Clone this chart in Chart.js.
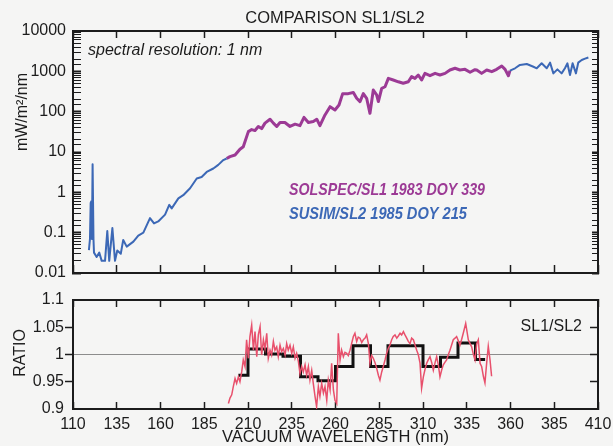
<!DOCTYPE html>
<html>
<head>
<meta charset="utf-8">
<script src="https://cdn.jsdelivr.net/npm/chart.js@4.4.1/dist/chart.umd.min.js"></script>
<style>
  html, body { margin: 0; padding: 0; background: #f5f5f4; }
  #wrap { position: relative; width: 613px; height: 446px; overflow: hidden; }
  #spec { position: absolute; left: 0; top: 0; width: 613px; height: 290px; }
  #ratio { position: absolute; left: 0; top: 290px; width: 613px; height: 156px; }
</style>
</head>
<body>
<div id="wrap">
  <canvas id="spec" width="613" height="290"></canvas>
  <canvas id="ratio" width="613" height="156"></canvas>
</div>
<script>
// SUSIM/SL2 (blue), short-wave part
const susimUvWl = [119.1, 119.7, 120.1, 120.5, 120.8, 121.2, 121.7, 122.0, 123.5, 125.0, 126.4, 128.3, 129.6, 130.7,
  132.5, 134.0, 135.3, 137.3, 138.7, 140.7, 144.5, 147.3, 150.2, 154, 156.3, 158.7, 162.6, 165, 166.4, 170.2, 173,
  176.9, 180.7, 183.5, 186.4, 190.2, 193, 195.9, 197.8];
const susimUvFlux = [0.037, 0.07, 0.55, 0.6, 0.07, 5.0, 0.07, 0.032, 0.025, 0.032, 0.02, 0.02, 0.11, 0.02,
  0.13, 0.02, 0.036, 0.03, 0.066, 0.045, 0.06, 0.085, 0.1, 0.23, 0.17, 0.19, 0.28, 0.49, 0.40, 0.71, 0.85,
  1.26, 2.2, 2.4, 3.2, 3.9, 4.8, 6.3, 6.9];

// SUSIM/SL2 (blue), long-wave part
const susimVisWl = [359.7, 362.6, 365.4, 369.3, 373.1, 375, 377.8, 380.7, 382.6, 384.5, 386.8, 389.2, 391.1, 392.5,
  394, 395.5, 397.4, 398.7, 400.7, 402.6, 404.5];
const susimVisFlux = [1040, 1190, 1440, 1520, 1300, 1190, 1580, 1190, 1640, 890, 1120, 890, 1190, 1580,
  810, 1580, 890, 1640, 1910, 2060, 2200];

// SOLSPEC/SL1 (purple)
const solspecWl = [197.8, 199.7, 202.6, 205.4, 207.3, 210.2, 212.1, 214, 215.9, 217.8, 219.7, 222.6, 224.5, 226.4,
  228.3, 231.1, 234, 236.9, 239.7, 242, 244.5, 247.3, 249.3, 251.1, 254, 256.9, 259.7, 262, 264.1, 267.3, 270.2,
  272.1, 274, 275.9, 277.8, 279.7, 281.6, 283.5, 284.5, 286.4, 288.3, 290.2, 293, 295.9, 298.7, 301.6, 303.5,
  305.4, 307.3, 309.2, 311.1, 314, 316.9, 319.7, 322.6, 325.4, 328.3, 331.1, 334, 336.9, 339.7, 340.7, 343.5,
  346.4, 349.3, 352.1, 355, 356.9, 358.8, 359.7];
const solspecFlux = [6.9, 7.7, 8.4, 11.7, 13.5, 32, 36, 34, 43, 38, 52, 65, 52, 43,
  54, 54, 43, 49, 45, 72, 54, 57, 65, 45, 83, 133, 110, 146, 280, 280, 300,
  215, 178, 280, 215, 91, 345, 260, 178, 380, 415, 670, 610, 550, 505, 550, 740,
  670, 810, 610, 890, 780, 890, 810, 890, 1080, 1190, 1080, 1120, 950, 1100, 1080, 890,
  1080, 980, 1120, 1360, 1120, 780, 1040];

// SL1/SL2 ratio (red)
const ratioWl = [198.8, 199.7, 200.7, 201.6, 202.6, 203.5, 204.5, 205.4, 206.4, 207.3, 208.3, 209.2, 210.2, 211.1,
  212.1, 213.1, 214, 215, 215.9, 216.9, 217.8, 218.8, 219.7, 220.7, 221.6, 222.6, 223.5, 224.5, 225.4, 226.4,
  227.3, 228.3, 229.2, 230.2, 231.2, 232.1, 233, 234, 235, 235.9, 236.9, 237.8, 238.8, 239.7, 240.7, 241.6,
  242.6, 243.5, 244.5, 245.4, 246.4, 247.3, 248.3, 249.2, 250.2, 251.1, 252.1, 253.1, 254, 255, 255.9, 256.9,
  257.8, 258.8, 259.7, 260.7, 261.6, 262.6, 263.5, 264.5, 265.4, 266.4, 267.3, 268.3, 269.2, 270.2, 271.1,
  272.1, 273, 274, 275, 275.9, 276.9, 277.8, 278.8, 279.7, 280.7, 281.6, 282.6, 283.5, 284.5, 285.4, 286.4,
  287.3, 288.3, 289.2, 290.2, 291.1, 292.1, 293, 294, 295, 295.9, 296.9, 297.8, 298.8, 299.7, 300.7, 301.6,
  302.6, 303.5, 304.5, 305.4, 306.4, 307.3, 308.3, 309.2, 310.2, 311.1, 312.1, 313, 314, 315, 315.9, 316.9,
  317.8, 318.8, 319.7, 320.7, 321.6, 322.6, 323.5, 324.5, 325.4, 326.4, 327.3, 328.3, 329.2, 330.2, 331.1,
  332.1, 333, 334.4, 335.9, 336.9, 337.8, 338.8, 339.7, 340.7, 341.6, 342.6, 343.5, 344.5, 345.4, 346.4,
  347.3, 348.3, 349.2];
const ratioVal = [0.91, 0.92, 0.926, 0.941, 0.956, 0.947, 0.959, 0.95, 0.968, 0.99, 0.978, 1.027, 0.993, 1.033,
  1.054, 1.008, 1.042, 0.996, 1.036, 1.051, 0.999, 1.027, 1.011, 1.039, 0.993, 1.008, 0.999, 1.024, 1.008, 1.014,
  0.996, 1.017, 1.005, 1.011, 0.999, 1.02, 1.008, 1.017, 1.002, 1.014, 0.993, 1.002, 0.987, 0.965, 0.978, 0.968,
  0.981, 0.962, 0.978, 0.953, 0.971, 0.947, 0.923, 0.904, 0.941, 0.923, 0.947, 0.929, 0.941, 0.916, 0.953, 0.935,
  0.984, 0.935, 0.916, 0.91, 1.039, 0.99, 1.008, 0.996, 1.004, 1.002, 0.998, 1.008, 1.02, 1.033, 1.039,
  1.024, 1.032, 1.03, 1.022, 1.027, 1.03, 1.036, 1.02, 0.984, 0.998, 0.993, 0.985, 0.975, 0.962, 0.953, 0.968,
  0.978, 0.99, 1.002, 1.012, 1.017, 1.027, 1.033, 1.036, 1.03, 1.034, 1.039, 1.036, 1.042, 1.036, 1.03, 1.024,
  1.02, 1.03, 1.027, 1.018, 1.008, 1.0, 0.984, 0.938, 0.959, 0.972, 0.984, 0.99, 0.996, 0.985, 0.971, 0.985,
  0.996, 0.98, 0.959, 0.972, 0.981, 0.986, 0.99, 1.0, 1.008, 1.018, 1.027, 1.03, 1.033, 1.025, 1.017,
  1.028, 1.039, 1.057, 1.027, 1.02, 1.014, 1.0, 0.99, 1.02, 1.027, 0.984, 0.978, 0.96, 0.948, 0.985,
  1.015, 0.99, 0.96];

// 10 nm bin averages (black steps); last value repeated to close the final bin
const binEdges = [204.5, 210, 220, 230, 240, 250, 260, 270, 280, 290, 310, 320, 330, 340, 345.5];
const binRatio = [0.962, 1.01, 1.001, 0.997, 0.959, 0.952, 0.978, 1.016, 0.978, 1.016, 0.978, 0.995, 1.021, 0.991, 0.991];

// axis ticks
const wlTicks = [110, 135, 160, 185, 210, 235, 260, 285, 310, 335, 360, 385, 410];
const fluxTickLabels = ['0.01', '0.1', '1', '10', '100', '1000', '10000'];
const ratioTicks = [0.9, 0.95, 1, 1.05, 1.1];
const ratioTickLabels = ['0.9', '0.95', '1', '1.05', '1.1'];

const FONT = "'Liberation Sans', Arial, Helvetica, sans-serif";
const INK = '#1c1c1c';
const CLEAR = 'rgba(0,0,0,0)';
const PURPLE = '#9c3a95';
const BLUE = '#3c68b6';
const RED = '#e8506c';

Chart.defaults.font.family = FONT;
Chart.defaults.color = INK;
Chart.defaults.elements.point.radius = 0;

const toXY = (xs, ys) => xs.map((x, i) => ({ x: x, y: ys[i] }));
const decadeIndex = v => {
  const l = Math.log10(v);
  return Math.abs(l - Math.round(l)) < 1e-6 ? Math.round(l) + 2 : -1;
};
const useTicks = list => s => { s.ticks = list.map(v => ({ value: v })); };
const tickVal = c => (c.tick ? c.tick.value : NaN);
const frameBorder = { display: true, color: INK, width: 2 };

// wavelength axis: inward ticks, no labels (used at top of both panels and bottom of the upper one)
const wlAxis = (position, tl) => ({
  type: 'linear', min: 110, max: 410, position: position,
  afterFit: s => { s.height = 0; s.paddingLeft = 0; s.paddingRight = 0; },
  afterBuildTicks: useTicks(wlTicks),
  ticks: { display: false },
  grid: { display: true, drawOnChartArea: false, drawTicks: true, tickLength: tl, tickColor: INK, tickWidth: 1.5 },
  border: frameBorder
});

const specText = {
  id: 'specText',
  afterDraw(chart) {
    const ctx = chart.ctx;
    ctx.save();
    ctx.fillStyle = INK;
    ctx.textBaseline = 'alphabetic';
    ctx.textAlign = 'center';
    ctx.font = '16.5px ' + FONT;
    ctx.fillText('COMPARISON SL1/SL2', 335, 23);

    ctx.textAlign = 'left';
    ctx.font = 'italic 16px ' + FONT;
    ctx.fillText('spectral resolution: 1 nm', 88, 55);

    ctx.font = 'italic bold 17px ' + FONT;
    ctx.fillStyle = PURPLE;
    ctx.fillText('SOLSPEC/SL1 1983 DOY 339', 289, 195, 196);
    ctx.fillStyle = BLUE;
    ctx.fillText('SUSIM/SL2 1985 DOY 215', 289, 219, 178);

    ctx.fillStyle = INK;
    ctx.font = '16px ' + FONT;
    ctx.translate(27, 112);
    ctx.rotate(-Math.PI / 2);
    ctx.textAlign = 'center';
    ctx.fillText('mW/m²/nm', 0, 0);
    ctx.restore();
  }
};

const ratioText = {
  id: 'ratioText',
  afterDraw(chart) {
    const ctx = chart.ctx;
    ctx.save();
    ctx.fillStyle = INK;
    ctx.font = '16px ' + FONT;
    ctx.textAlign = 'right';
    ctx.fillText('SL1/SL2', 582, 41);

    ctx.translate(25, 63);
    ctx.rotate(-Math.PI / 2);
    ctx.textAlign = 'center';
    ctx.fillText('RATIO', 0, 0);
    ctx.restore();
  }
};

new Chart(document.getElementById('spec'), {
  type: 'line',
  data: {
    datasets: [
      { data: toXY(susimUvWl, susimUvFlux), borderColor: BLUE, borderWidth: 2, borderJoinStyle: 'round' },
      { data: toXY(susimVisWl, susimVisFlux), borderColor: BLUE, borderWidth: 2, borderJoinStyle: 'round' },
      { data: toXY(solspecWl, solspecFlux), borderColor: PURPLE, borderWidth: 3, borderJoinStyle: 'round' }
    ]
  },
  options: {
    responsive: false,
    animation: false,
    layout: { padding: { top: 31, right: 15, bottom: 17, left: 0 } },
    plugins: { legend: { display: false }, tooltip: { enabled: false } },
    scales: {
      x: wlAxis('bottom', -8),
      xTop: wlAxis('top', -7),
      y: {
        type: 'logarithmic', min: 0.01, max: 10000, position: 'left',
        afterFit: s => { s.width = 73; s.paddingTop = 0; s.paddingBottom = 0; },
        grid: { display: true, drawOnChartArea: false, drawTicks: true, tickLength: -8, tickColor: INK,
          tickWidth: c => (decadeIndex(tickVal(c)) >= 0 ? 2 : 1) },
        border: frameBorder,
        ticks: {
          autoSkip: false, padding: 15, font: { size: 16 },
          callback: v => { const i = decadeIndex(v); return i >= 0 ? fluxTickLabels[i] : ''; }
        }
      },
      yRight: {
        type: 'logarithmic', min: 0.01, max: 10000, position: 'right',
        afterFit: s => { s.width = 0; s.paddingTop = 0; s.paddingBottom = 0; },
        ticks: { display: false },
        grid: { display: true, drawOnChartArea: false, drawTicks: true, tickLength: -6, tickColor: INK,
          tickWidth: c => (decadeIndex(tickVal(c)) >= 0 ? 2 : 1) },
        border: frameBorder
      }
    }
  },
  plugins: [specText]
});

new Chart(document.getElementById('ratio'), {
  type: 'line',
  data: {
    datasets: [
      { data: toXY(ratioWl, ratioVal), borderColor: RED, borderWidth: 1.5 },
      { data: toXY(binEdges, binRatio), borderColor: '#111', borderWidth: 3, stepped: true }
    ]
  },
  options: {
    responsive: false,
    animation: false,
    layout: { padding: { top: 10, right: 15, bottom: 0, left: 0 } },
    plugins: { legend: { display: false }, tooltip: { enabled: false } },
    scales: {
      x: {
        type: 'linear', min: 110, max: 410, position: 'bottom',
        afterFit: s => { s.height = 37; s.paddingLeft = 0; s.paddingRight = 0; },
        afterBuildTicks: useTicks(wlTicks),
        grid: { display: true, drawOnChartArea: false, drawTicks: true, tickLength: -7, tickColor: INK, tickWidth: 1.5 },
        border: frameBorder,
        ticks: { autoSkip: false, maxRotation: 0, padding: 13, font: { size: 16 },
          callback: (v, i) => String(wlTicks[i]) },
        title: { display: true, text: 'VACUUM WAVELENGTH (nm)', padding: 0,
          font: { size: 16.5, lineHeight: 1 } }
      },
      xTop: wlAxis('top', -7),
      y: {
        min: 0.9, max: 1.1, position: 'left',
        afterFit: s => { s.width = 73; s.paddingTop = 0; s.paddingBottom = 0; },
        afterBuildTicks: useTicks(ratioTicks),
        grid: { display: true, drawOnChartArea: false, drawTicks: true, tickLength: 8, tickWidth: 1.5,
          tickColor: c => (tickVal(c) > 0.92 && tickVal(c) < 1.08 ? INK : CLEAR) },
        border: frameBorder,
        ticks: { padding: 1, font: { size: 16 }, callback: (v, i) => ratioTickLabels[i] }
      },
      yRight: {
        min: 0.9, max: 1.1, position: 'right',
        afterFit: s => { s.width = 0; s.paddingTop = 0; s.paddingBottom = 0; },
        afterBuildTicks: useTicks(ratioTicks),
        ticks: { display: false },
        grid: { display: true, drawOnChartArea: true, drawTicks: true, tickLength: -8, tickWidth: 1.5, lineWidth: 1,
          color: c => (Math.abs(tickVal(c) - 1) < 1e-9 ? '#8c8c8c' : CLEAR),
          tickColor: c => (tickVal(c) > 0.92 && tickVal(c) < 1.08 ? INK : CLEAR) },
        border: frameBorder
      }
    }
  },
  plugins: [ratioText]
});
</script>
</body>
</html>
